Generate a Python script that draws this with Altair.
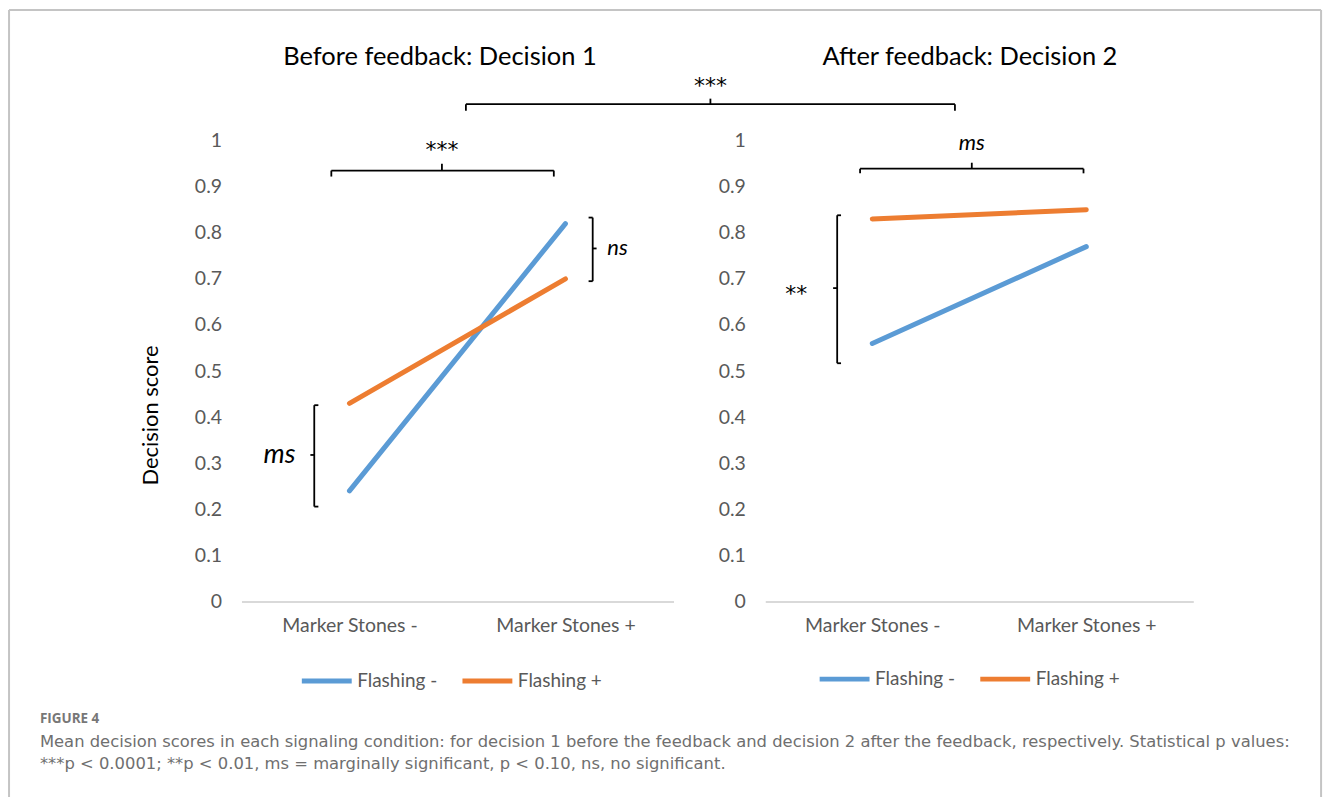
import altair as alt
import pandas as pd

# ---------------- data ----------------
categories = ["Marker Stones -", "Marker Stones +"]
series = ["Flashing -", "Flashing +"]
series_colors = ["#5b9bd5", "#ed7d31"]

before_flashing_minus = [0.24, 0.82]
before_flashing_plus = [0.43, 0.70]
after_flashing_minus = [0.56, 0.77]
after_flashing_plus = [0.83, 0.85]

y_ticks = [0, 0.1, 0.2, 0.3, 0.4, 0.5, 0.6, 0.7, 0.8, 0.9, 1.0]
panel_titles = ["Before feedback: Decision 1", "After feedback: Decision 2"]
y_title = "Decision score"

caption_head = "FIGURE 4"
caption_lines = [
    "Mean decision scores in each signaling condition: for decision 1 before the feedback and decision 2 after the feedback, respectively. Statistical p values:",
    "***p < 0.0001; **p < 0.01, ms = marginally significant, p < 0.10, ns, no significant.",
]

FONT = "Lato"
GRAY = "#595959"
STAR_FONT = "DejaVu Sans"


def line_frame(minus_vals, plus_vals):
    rows = []
    for s, vals in zip(series, [minus_vals, plus_vals]):
        for j, c in enumerate(categories):
            rows.append({"series": s, "category": c, "pos": j + 0.5, "score": vals[j]})
    return pd.DataFrame(rows)


label_expr = "datum.value < 1 ? '%s' : '%s'" % (categories[0], categories[1])


def make_enc(with_ytitle):
    xs = alt.Scale(domain=[0, 2], nice=False, zero=False)
    ys = alt.Scale(domain=[0, 1], nice=False)
    xaxis = alt.Axis(values=[0.5, 1.5], labelExpr=label_expr, title=None, grid=False,
                     ticks=False, domain=True, domainColor="#d9d9d9", domainWidth=2,
                     labelFont=FONT, labelFontSize=19.5, labelColor=GRAY, labelPadding=15)
    yargs = dict(values=y_ticks, format=".1~f", grid=False, ticks=False, domain=False,
                 labelFont=FONT, labelFontSize=19.5, labelColor=GRAY, labelPadding=20)
    if with_ytitle:
        yargs.update(title=y_title, titleFont=FONT, titleFontSize=22, titleFontWeight="normal",
                     titleColor="#000000", titleX=-91, titleY=275, titleBaseline="middle",
                     titleAlign="center", titleAngle=270)
    else:
        yargs.update(title=None)
    yaxis = alt.Axis(**yargs)

    def X(f):
        return alt.X(f, type="quantitative", scale=xs, axis=xaxis)

    def Y(f):
        return alt.Y(f, type="quantitative", scale=ys, axis=yaxis)

    return X, Y


def hbracket(x1, x2, y, yend, xc, ytop):
    return [(x1, x2, y, y), (x1, x1, y, yend), (x2, x2, y, yend), (xc, xc, y, ytop)]


def vbracket(x, y1, y2, xend, yc, xmid):
    return [(x, x, y1, y2), (x, xend, y1, y1), (x, xend, y2, y2), (x, xmid, yc, yc)]


def seg_df(segs):
    return pd.DataFrame(segs, columns=["x", "x2", "y", "y2"])


def panel(minus_vals, plus_vals, title, segs, texts, legend_xy, size, with_ytitle,
          extra_layers=()):
    X, Y = make_enc(with_ytitle)
    df = line_frame(minus_vals, plus_vals)
    lines = alt.Chart(df).mark_line(strokeWidth=5, strokeCap="round").encode(
        x=X("pos"), y=Y("score"),
        color=alt.Color("series:N", scale=alt.Scale(domain=series, range=series_colors),
                        sort=series,
                        legend=alt.Legend(orient="none", legendX=legend_xy[0], legendY=legend_xy[1],
                                          direction="horizontal", title=None, symbolType="stroke",
                                          symbolSize=2500, symbolStrokeWidth=5,
                                          labelFont=FONT, labelFontSize=19, labelColor=GRAY,
                                          columnPadding=14, labelOffset=3, padding=0)),
    )
    rules = alt.Chart(seg_df(segs)).mark_rule(color="#000000", strokeWidth=1.8).encode(
        x=X("x"), x2="x2:Q", y=Y("y"), y2="y2:Q")
    layers = [lines, rules]
    tdf = pd.DataFrame([{"x": title[1], "y": title[2], "t": title[0]}])
    layers.append(alt.Chart(tdf).mark_text(font=FONT, fontSize=25.5, color="#000000").encode(
        x=X("x"), y=Y("y"), text="t:N"))
    for (t, x, y, fsize, style, font) in texts:
        d = pd.DataFrame([{"x": x, "y": y, "t": t}])
        layers.append(alt.Chart(d).mark_text(font=font, fontSize=fsize, fontStyle=style,
                                             color="#000000", baseline="middle").encode(
            x=X("x"), y=Y("y"), text="t:N"))
    for lyr in extra_layers:
        layers.append(lyr(X, Y))
    return alt.layer(*layers).properties(width=size[0], height=size[1])


# ---------- annotation geometry (data coordinates) ----------
left_segs = (
    hbracket(0.416, 1.446, 0.935, 0.922, 0.928, 0.950)
    + vbracket(0.337, 0.426, 0.206, 0.356, 0.318, 0.319)
    + vbracket(1.626, 0.833, 0.695, 1.607, 0.766, 1.644)
    + hbracket(1.039, 3.303, 1.079, 1.065, 2.171, 1.091)
)
left_texts = [
    ("***", 0.928, 0.980, 22, "normal", STAR_FONT),
    ("ms", 0.176, 0.318, 27, "italic", FONT),
    ("ns", 1.741, 0.766, 22, "italic", FONT),
    ("***", 2.171, 1.119, 22, "normal", STAR_FONT),
]
right_segs = (
    hbracket(0.443, 1.487, 0.939, 0.929, 0.965, 0.952)
    + vbracket(0.336, 0.838, 0.517, 0.354, 0.680, 0.317)
)
right_texts = [
    ("ms", 0.965, 0.994, 22, "italic", FONT),
    ("**", 0.145, 0.668, 22, "normal", STAR_FONT),
]


def caption_layer(X, Y):
    d = pd.DataFrame([{"x": -0.933, "y": -0.255, "t": caption_head}])
    return alt.Chart(d).mark_text(font="Open Sans", fontSize=13.5, fontWeight="bold",
                                  color="#777777", align="left", baseline="middle").encode(
        x=X("x"), y=Y("y"), text="t:N")


def caption_lines_layer(X, Y):
    d = pd.DataFrame([{"x": -0.933, "y": -0.304, "t": caption_lines[0]},
                      {"x": -0.933, "y": -0.353, "t": caption_lines[1]}])
    return alt.Chart(d).mark_text(font="DejaVu Sans", fontSize=16.4, color="#6f6f6f",
                                  align="left", baseline="middle").encode(
        x=X("x"), y=Y("y"), text="t:N")


def frame_layer(X, Y):
    fl, fr, ft, fb = -1.076, 4.998, 1.2835, -0.424
    d = seg_df([(fl, fr, ft, ft), (fl, fl, ft, fb), (fr, fr, ft, fb)])
    return alt.Chart(d).mark_rule(color="#c4c4c4", strokeWidth=2).encode(
        x=X("x"), x2="x2:Q", y=Y("y"), y2="y2:Q")


left = panel(before_flashing_minus, before_flashing_plus, (panel_titles[0], 0.919, 1.182),
             left_segs, left_texts, (58, 514), (433, 462), True,
             extra_layers=(frame_layer, caption_layer, caption_lines_layer))
right = panel(after_flashing_minus, after_flashing_plus, (panel_titles[1], 0.956, 1.182),
              right_segs, right_texts, (52, 512), (429, 462), False)

chart = alt.hconcat(left, right, spacing=92, bounds="flush").resolve_scale(
    color="independent").properties(padding=0).configure_view(stroke=None)

chart.save("out.html", embed_options={"renderer": "svg", "actions": False})
